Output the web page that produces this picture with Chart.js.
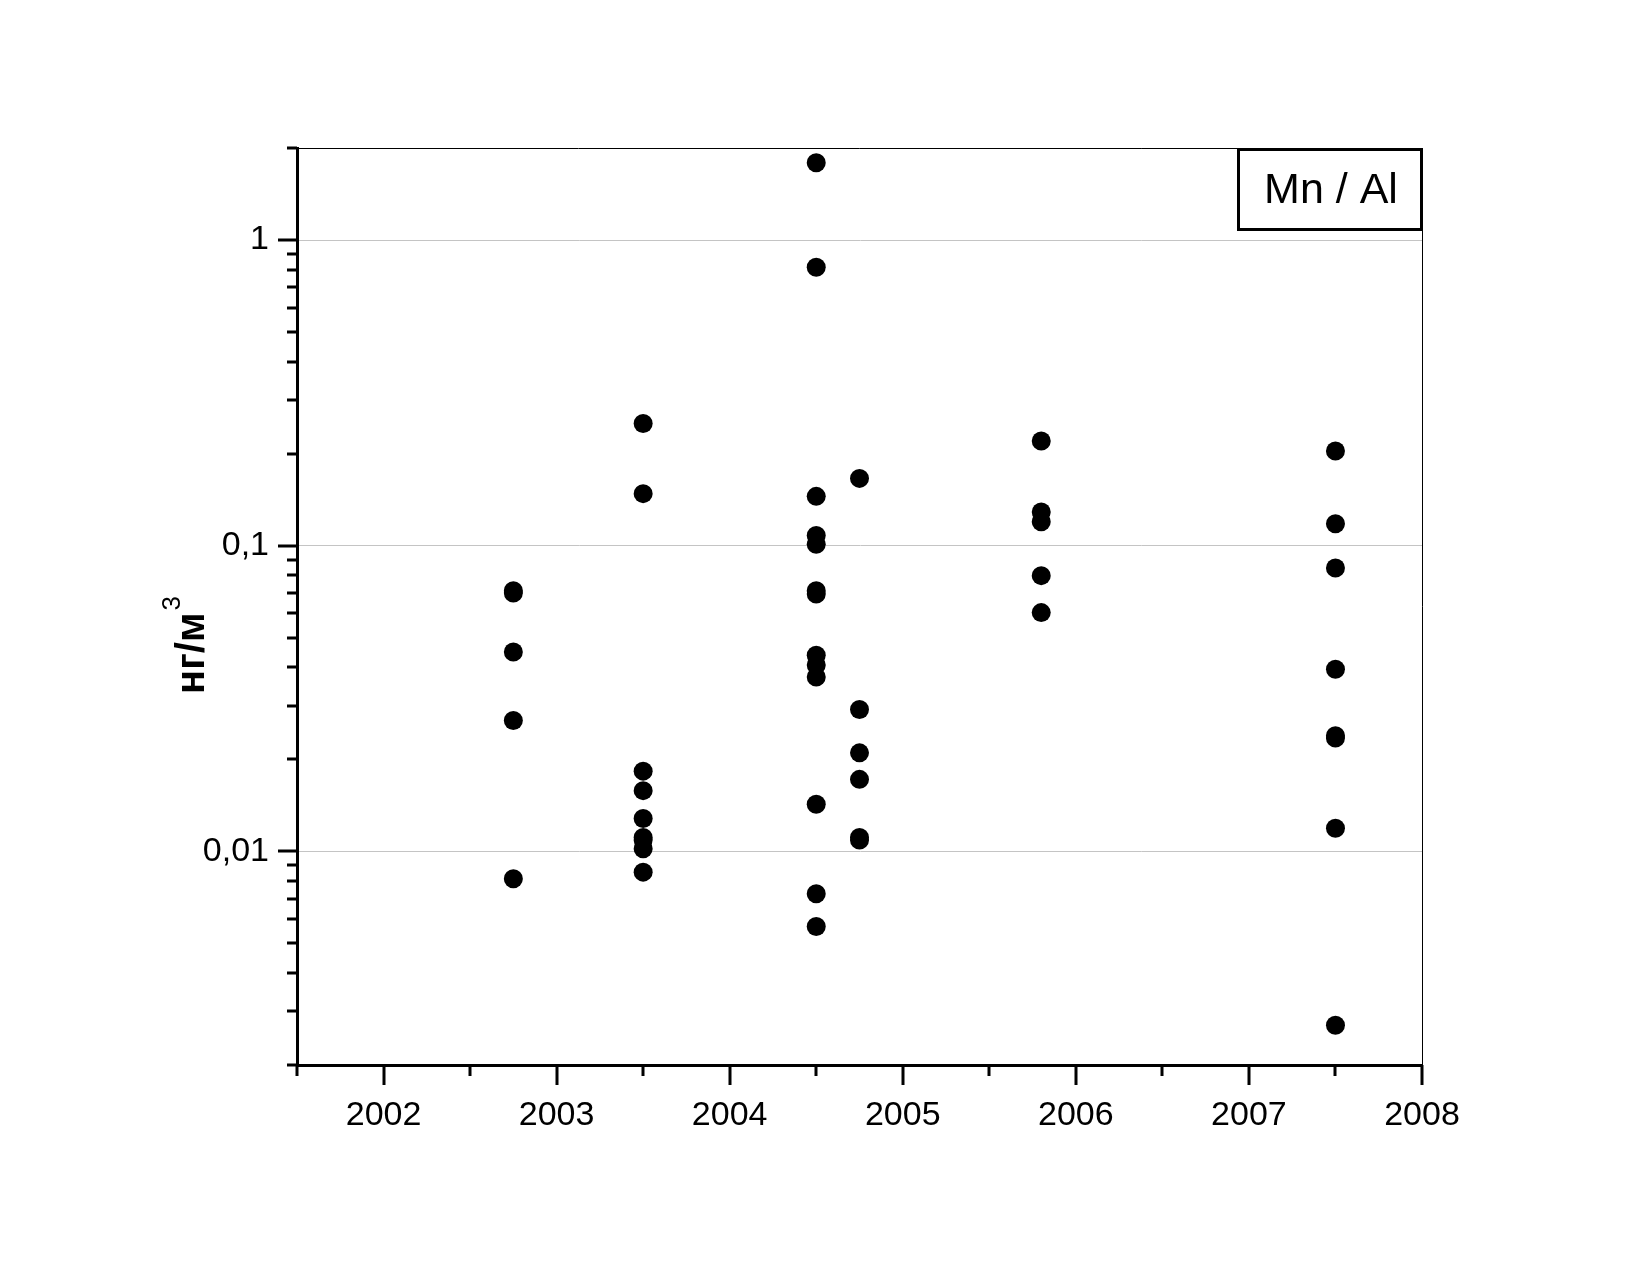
<!DOCTYPE html>
<html>
<head>
<meta charset="utf-8">
<script src="https://cdn.jsdelivr.net/npm/chart.js@4/dist/chart.umd.min.js"></script>
<style>
    html, body { margin: 0; padding: 0; background: #fff; }
    canvas { display: block; }
</style>
</head>
<body>
<canvas id="mnAlChart" width="1650" height="1275"></canvas>
<script>
// sampling dates (fractional year) and Mn/Al values, ng/m3
var sampleDates = [2002.75, 2003.5, 2004.5, 2004.75, 2005.8, 2007.5];
var mnAl2002 = [0.0712, 0.0700, 0.0449, 0.0268, 0.00814];
var mnAl2003 = [0.251, 0.148, 0.0183, 0.0158, 0.0128, 0.0111, 0.0109, 0.0102, 0.00855];
var mnAl2004a = [1.79, 0.814, 0.145, 0.108, 0.101, 0.0712, 0.0695, 0.0438, 0.0407, 0.0372, 0.01425, 0.00727, 0.00568];
var mnAl2004b = [0.166, 0.0291, 0.0210, 0.0172, 0.0111, 0.0109];
var mnAl2005 = [0.220, 0.129, 0.1197, 0.0798, 0.0604];
var mnAl2007 = [0.204, 0.118, 0.0845, 0.0394, 0.0239, 0.0235, 0.0119, 0.0027];

var xTickValues = [2001.5, 2002, 2002.5, 2003, 2003.5, 2004, 2004.5, 2005, 2005.5, 2006, 2006.5, 2007, 2007.5, 2008];
var xMajorTicks = [2002, 2003, 2004, 2005, 2006, 2007, 2008];
var yTickValues = [0.002, 0.003, 0.004, 0.005, 0.006, 0.007, 0.008, 0.009,
    0.01, 0.02, 0.03, 0.04, 0.05, 0.06, 0.07, 0.08, 0.09,
    0.1, 0.2, 0.3, 0.4, 0.5, 0.6, 0.7, 0.8, 0.9, 1, 2];
var yMajorTicks = [0.01, 0.1, 1];
var yTickLabels = ['0,01', '0,1', '1'];

var FONT = '"Liberation Sans", Arial, sans-serif';

function findMajor(list, v) {
    for (var i = 0; i < list.length; i++) {
        if (Math.abs(list[i] - v) / list[i] < 1e-6) return i;
    }
    return -1;
}

var columns = [mnAl2002, mnAl2003, mnAl2004a, mnAl2004b, mnAl2005, mnAl2007];
var points = [];
columns.forEach(function (col, i) {
    col.forEach(function (v) {
        points.push({ x: sampleDates[i], y: v });
    });
});

// tick marks (long major, short minor), frame, axis title and the box label
var decorPlugin = {
    id: 'decor',
    afterDraw: function (chart) {
        var ctx = chart.ctx;
        var area = chart.chartArea;
        var xs = chart.scales.x;
        var ys = chart.scales.y;
        ctx.save();

        ctx.strokeStyle = '#000';
        ctx.lineWidth = 1;
        ctx.beginPath();
        ctx.moveTo(area.left, area.top + 0.5);
        ctx.lineTo(area.right + 0.5, area.top + 0.5);
        ctx.lineTo(area.right + 0.5, area.bottom);
        ctx.stroke();

        ctx.lineWidth = 3;
        ctx.beginPath();
        xTickValues.forEach(function (v) {
            var px = Math.round(xs.getPixelForValue(v));
            var len = findMajor(xMajorTicks, v) >= 0 ? 20 : 11;
            ctx.moveTo(px, area.bottom);
            ctx.lineTo(px, area.bottom + len);
        });
        yTickValues.forEach(function (v) {
            var py = Math.round(ys.getPixelForValue(v));
            var len = findMajor(yMajorTicks, v) >= 0 ? 19 : 10;
            ctx.moveTo(area.left, py);
            ctx.lineTo(area.left - len, py);
        });
        ctx.stroke();

        // y axis title with superscript
        ctx.fillStyle = '#000';
        ctx.translate(204, 694);
        ctx.rotate(-Math.PI / 2);
        ctx.textAlign = 'left';
        ctx.textBaseline = 'alphabetic';
        ctx.font = 'bold 40px ' + FONT;
        ctx.fillText('нг/м', 0, 0);
        var w = ctx.measureText('нг/м').width;
        ctx.font = '26px ' + FONT;
        ctx.fillText('3', w + 2, -24);
        ctx.restore();

        // label box in the upper right corner
        ctx.save();
        ctx.strokeStyle = '#000';
        ctx.lineWidth = 3;
        ctx.strokeRect(1238.5, 149.5, 183, 80);
        ctx.fillStyle = '#000';
        ctx.font = '43px ' + FONT;
        ctx.textAlign = 'center';
        ctx.textBaseline = 'middle';
        ctx.fillText('Mn / Al', 1331, 191);
        ctx.restore();
    }
};

new Chart(document.getElementById('mnAlChart'), {
    type: 'scatter',
    data: {
        datasets: [{
            label: 'Mn / Al',
            data: points,
            backgroundColor: '#000',
            borderWidth: 0,
            pointRadius: 9.5,
            pointHoverRadius: 9.5
        }]
    },
    options: {
        responsive: false,
        animation: false,
        devicePixelRatio: 1,
        layout: {
            padding: { left: 0, top: 148, right: 228, bottom: 90 }
        },
        plugins: {
            legend: { display: false },
            tooltip: { enabled: false }
        },
        scales: {
            x: {
                type: 'linear',
                min: 2001.5,
                max: 2008,
                afterBuildTicks: function (scale) {
                    scale.ticks = xTickValues.map(function (v) { return { value: v }; });
                },
                afterFit: function (scale) { scale.height = 120; },
                grid: { drawOnChartArea: false, drawTicks: false },
                border: { color: '#000', width: 3 },
                ticks: {
                    autoSkip: false,
                    maxRotation: 0,
                    padding: 30,
                    color: '#000',
                    font: { family: FONT, size: 34 },
                    callback: function (value) {
                        return findMajor(xMajorTicks, value) >= 0 ? String(Math.round(value)) : '';
                    }
                }
            },
            y: {
                type: 'logarithmic',
                min: 0.002,
                max: 2,
                afterBuildTicks: function (scale) {
                    scale.ticks = yTickValues.map(function (v) { return { value: v }; });
                },
                afterFit: function (scale) { scale.width = 297; },
                grid: {
                    drawTicks: false,
                    color: function (c) {
                        return c.tick && findMajor(yMajorTicks, c.tick.value) >= 0 ? '#c4c4c4' : 'rgba(0,0,0,0)';
                    },
                    lineWidth: 1
                },
                border: { color: '#000', width: 3 },
                ticks: {
                    autoSkip: false,
                    padding: 28,
                    color: '#000',
                    font: { family: FONT, size: 34 },
                    callback: function (value) {
                        var i = findMajor(yMajorTicks, value);
                        return i >= 0 ? yTickLabels[i] : '';
                    }
                }
            }
        }
    },
    plugins: [decorPlugin]
});
</script>
</body>
</html>
